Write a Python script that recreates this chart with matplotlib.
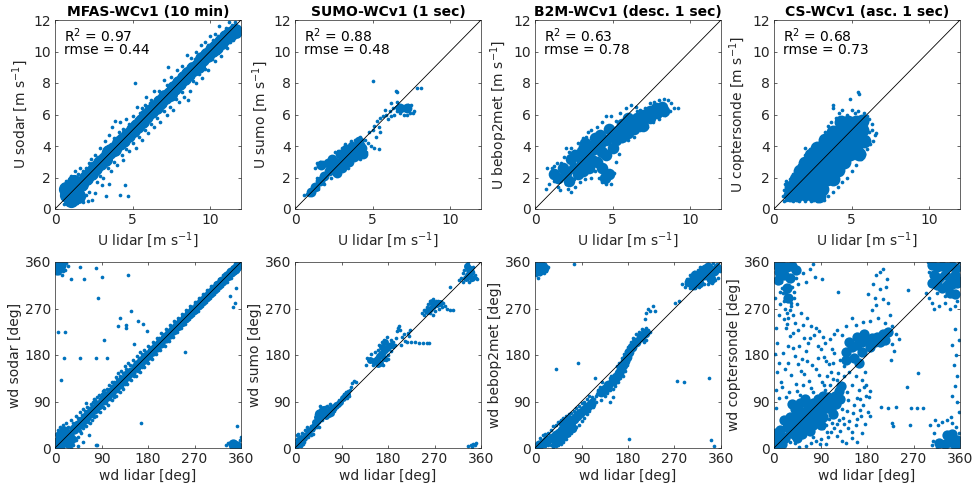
import matplotlib
matplotlib.use('Agg')
import matplotlib.pyplot as plt

plt.rcParams['font.family'] = ['DejaVu Sans']
plt.rcParams['mathtext.fontset'] = 'dejavusans'

# ---------------- data ----------------
titles = ['MFAS-WCv1 (10 min)', 'SUMO-WCv1 (1 sec)', 'B2M-WCv1 (desc. 1 sec)', 'CS-WCv1 (asc. 1 sec)']
instruments = ['sodar', 'sumo', 'bebop2met', 'coptersonde']
r2_values = [0.97, 0.88, 0.63, 0.68]
rmse_values = [0.44, 0.48, 0.78, 0.73]
speed_ticks = [0, 5, 10]
speed_yticks = [0, 2, 4, 6, 8, 10, 12]
dir_ticks = [0, 90, 180, 270, 360]

# wind speed, sodar vs lidar: dense core and scattered points
u_sodar_core = [(0.8,0.9),(1.1,1.1),(1.4,1.4),(1.7,1.6),(2.0,2.0),(2.3,2.3),(2.6,2.6),(2.9,2.9),(3.2,3.2),
    (3.5,3.6),(3.8,3.8),(4.1,4.2),(4.4,4.4),(4.7,4.7),(5.0,5.0),(5.3,5.3),(5.6,5.6),(5.9,5.9),(6.2,6.2),
    (6.5,6.5),(6.8,6.8),(7.1,7.1),(7.4,7.3),(7.7,7.7),(8.0,8.0),(8.3,8.3),(8.6,8.6),(8.9,8.9),(9.2,9.1),
    (9.5,9.5),(9.8,9.8),(10.1,10.1),(10.4,10.3),(10.7,10.6),(11.0,10.9),(11.3,11.1),(11.6,11.3),
    (1.0,0.6),(1.5,0.8),(1.2,1.7),(0.7,1.3)]
u_sodar_pts = [(0.5,1.4),(0.6,1.1),(0.7,1.8),(0.9,1.5),(1.0,2.1),(1.2,1.9),(1.3,2.4),(1.5,2.2),(1.6,2.6),
    (1.8,2.4),(2.0,2.6),(2.2,2.9),(2.3,3.2),(2.5,2.9),(2.6,3.4),(2.8,3.3),(2.9,3.9),(3.1,3.6),(3.2,4.3),
    (3.4,4.0),(3.5,4.7),(3.7,5.2),(3.8,4.5),(3.9,5.6),(4.1,4.9),(4.2,5.5),(4.4,5.1),(4.6,5.7),(4.8,5.4),
    (5.0,5.9),(5.2,5.7),(5.3,6.5),(5.5,6.1),(5.6,6.4),(5.8,6.6),(5.9,7.1),(6.1,6.7),(6.2,6.9),(6.4,7.5),
    (6.5,7.0),(6.7,7.5),(6.9,7.4),(7.0,8.2),(7.2,7.9),(7.3,9.0),(7.5,8.4),(7.6,8.0),(7.9,8.8),(8.1,8.5),
    (8.2,9.1),(8.4,8.9),(8.5,9.8),(8.7,9.2),(8.8,9.6),(9.0,9.5),(9.1,10.0),(9.3,9.8),(9.4,10.4),(9.6,10.1),
    (9.7,10.6),(9.9,10.4),(10.0,11.0),(10.2,10.7),(10.3,11.1),(10.5,11.0),(10.6,11.6),(10.8,11.2),
    (11.0,11.5),(11.2,11.9),(11.4,11.7),(11.6,11.9),(5.15,8.0),
    (0.6,0.3),(0.9,0.45),(1.0,0.35),(1.3,0.6),(1.4,0.4),(1.7,0.7),(1.8,0.45),(2.1,0.5),(2.2,1.1),(2.4,0.6),
    (2.0,0.9),(2.6,1.0),(2.7,1.7),(3.0,1.5),(2.9,2.1),(3.3,0.8),(3.5,1.6),(3.1,2.0),(3.4,2.6),(3.6,2.4),
    (3.8,3.0),(4.0,2.8),(4.2,0.9),(4.5,1.5),(4.7,0.8),(4.3,3.4),(4.4,3.1),(4.6,3.8),(4.8,3.7),(5.0,4.2),
    (5.2,3.9),(5.4,4.6),(5.6,4.4),(5.8,5.0),(6.0,4.8),(6.2,5.4),(6.4,5.2),(6.6,5.8),(6.8,5.5),(7.0,6.2),
    (7.2,6.0),(7.4,6.5),(7.6,6.3),(7.8,7.0),(8.0,6.8),(8.2,7.4),(8.3,7.1),(8.6,6.9),(8.7,7.5),(8.9,8.1),
    (9.1,8.0),(9.3,8.6),(9.5,8.3),(9.7,8.9),(9.9,8.8),(10.1,9.5),(10.3,9.4),(10.5,9.9),(10.7,9.7),
    (10.9,10.3),(11.1,10.2),(11.3,10.6),(11.5,10.7),(11.7,11.1),(11.8,11.0),(11.9,11.3)]

u_sumo_core = [(1.0,1.1),(1.3,1.4),(1.6,1.8),(1.9,2.1),(2.2,2.4),(2.5,2.7),(2.8,2.9),(3.1,3.1),(3.4,3.4),
    (3.7,3.6),(4.0,3.8),(4.3,3.9),(2.4,3.2),(2.9,3.5),(3.3,3.8),(3.7,4.0),(4.1,4.3),(1.7,2.8),(2.1,2.9),
    (3.0,2.6),(3.5,3.0),(4.0,3.4),(4.4,3.5),(2.7,2.3),(3.2,2.9),(3.8,3.3),(2.6,3.0),(6.8,6.4),(7.2,6.4)]
u_sumo_pts = [(0.6,0.9),(0.75,0.95),(0.9,0.9),(1.1,1.0),(1.2,1.5),(1.5,1.3),(1.4,2.0),(1.3,2.6),(1.4,2.9),
    (1.6,3.0),(2.0,2.1),(2.6,3.6),(2.8,3.7),(3.2,4.1),(3.6,4.3),(3.9,4.4),(4.2,4.6),(4.5,4.4),(4.7,4.2),
    (4.9,4.0),(5.1,3.9),(5.4,3.8),(4.6,3.6),(5.2,4.6),(5.0,5.0),(5.1,5.3),(5.3,5.6),(5.5,5.8),(5.7,5.9),
    (5.4,5.2),(5.5,4.9),(5.9,6.0),(6.1,6.2),(6.3,6.4),(6.5,6.5),(6.6,6.2),(6.8,6.1),(7.0,6.0),(7.2,6.0),
    (7.4,6.1),(7.6,6.1),(7.7,6.2),(6.2,5.9),(6.4,6.0),(6.7,6.6),(6.9,6.5),(7.1,6.5),(7.3,6.6),(7.5,6.6),
    (6.0,5.7),(5.8,6.3),(6.2,6.7),(6.6,6.8),(6.5,7.5),(6.6,7.4),(7.9,7.7),(8.1,7.7),(5.0,8.1),(7.2,6.3),
    (6.9,6.3),(4.8,4.9),(4.4,4.1),(3.0,3.9),(2.3,2.0),(1.9,1.6),(2.5,2.2),(3.4,2.6),(4.2,3.2),(1.8,3.0),
    (2.2,3.1),(1.5,2.7)]

u_b2m_core = [(1.5,2.0),(2.0,2.3),(2.5,2.6),(3.0,3.0),(3.4,3.4),(3.8,3.8),(4.2,4.1),(4.6,4.4),(5.0,4.7),
    (5.4,5.0),(5.8,5.2),(6.2,5.5),(6.6,5.8),(7.0,6.0),(7.4,6.2),(7.8,6.4),(8.2,6.5),(2.3,3.2),(3.0,3.7),
    (3.5,4.0),(2.8,2.2),(3.5,2.6),(4.0,3.0),(4.3,2.6),(4.6,3.4),(5.0,3.9),(4.2,4.7),(3.9,4.5),(6.0,4.8),
    (7.0,5.3),(1.2,2.2),(1.8,2.6),(2.6,3.4),(3.2,4.2),(4.8,5.1),(5.2,4.4),(5.6,4.6),(6.4,5.1),(6.8,5.5),
    (7.4,5.8),(7.9,6.1),(8.3,6.2),(4.8,2.2),(4.5,2.0),(3.1,2.4),(2.2,1.8),(5.6,5.4),(6.0,5.8),(3.7,3.1),
    (4.3,3.6)]
u_b2m_pts = [(0.7,1.3),(0.9,1.6),(0.8,2.6),(1.0,2.3),(1.2,2.7),(1.2,1.8),(1.5,1.4),(1.7,2.9),(1.9,3.3),
    (2.0,3.9),(2.3,3.9),(2.5,3.7),(2.8,4.2),(3.1,4.5),(3.3,4.6),(3.6,5.0),(3.4,4.9),(4.0,5.2),(4.3,5.5),
    (4.6,5.9),(4.9,5.9),(5.2,5.6),(5.5,6.1),(5.9,6.4),(6.2,6.6),(6.5,6.5),(6.8,6.3),(7.1,6.4),(7.4,6.7),
    (7.7,6.8),(8.0,6.9),(8.3,7.0),(8.6,6.9),(8.8,6.7),(9.0,6.4),(9.2,6.4),(8.7,6.2),(8.4,6.0),(8.0,5.7),
    (7.6,5.5),(7.2,5.2),(6.8,5.0),(6.4,4.6),(6.0,4.4),(5.6,4.3),(5.4,3.5),(5.2,3.0),(5.1,2.3),(4.9,1.6),
    (4.6,1.6),(4.3,1.7),(4.1,2.0),(4.4,2.2),(3.9,2.4),(3.6,2.0),(3.2,1.9),(2.9,1.7),(2.6,1.4),(2.3,1.1),
    (2.1,1.3),(2.0,1.6),(2.5,1.9),(1.6,1.2),(1.4,2.9),(1.1,2.6),(2.2,3.6),(2.9,4.0),(6.6,6.2),(7.9,6.6)]

u_cs_core = [(1.0,0.9),(1.5,0.9),(2.0,0.95),(2.5,0.9),(2.9,0.8),(1.1,1.4),(1.6,1.45),(2.1,1.4),(2.6,1.3),
    (3.1,1.3),(1.4,1.9),(1.9,1.95),(2.4,1.9),(2.9,1.8),(3.4,1.9),(3.8,1.9),(1.7,2.4),(2.2,2.45),(2.7,2.4),
    (3.2,2.35),(3.7,2.4),(4.1,2.5),(2.0,2.9),(2.5,2.95),(3.0,2.9),(3.5,2.85),(4.0,3.0),(4.5,3.0),(2.4,3.4),
    (2.9,3.45),(3.4,3.4),(3.9,3.4),(4.4,3.5),(4.9,3.5),(2.8,3.9),(3.3,3.9),(3.8,3.95),(4.3,4.0),(4.8,4.0),
    (5.3,4.0),(3.3,4.4),(3.8,4.4),(4.3,4.5),(4.8,4.5),(5.3,4.6),(5.8,4.3),(3.8,4.9),(4.3,5.0),(4.8,5.0),
    (5.3,5.1),(5.7,5.0),(4.3,5.5),(4.8,5.5),(5.3,5.5),(5.7,5.6),(5.5,3.5)]
u_cs_pts = [(0.65,0.5),(0.8,0.55),(1.2,0.5),(1.6,0.5),(2.0,0.5),(2.4,0.5),(2.8,0.5),(3.0,0.55),(0.6,0.8),
    (0.65,1.2),(0.7,1.6),(0.75,1.75),(0.9,1.5),(1.0,1.9),(1.2,2.2),(1.4,2.5),(1.6,2.8),(1.8,3.1),(2.0,3.4),
    (2.0,3.9),(2.3,3.8),(2.6,4.0),(2.9,4.2),(3.1,4.6),(3.3,4.9),(3.5,5.3),(3.7,5.5),(3.8,6.6),(3.8,6.4),
    (4.0,5.8),(4.2,6.1),(4.4,6.3),(4.7,6.0),(4.9,7.0),(5.0,6.3),(5.4,7.4),(5.5,7.3),(5.4,6.2),(5.8,6.1),
    (6.0,5.9),(6.1,5.7),(6.3,5.4),(6.35,5.0),(6.5,4.7),(6.6,4.8),(6.4,4.3),(6.2,4.1),(6.0,3.8),(5.8,3.5),
    (5.6,3.2),(5.3,2.8),(5.0,2.4),(4.7,2.0),(4.4,1.7),(4.1,1.4),(3.8,1.1),(3.5,0.8),(3.2,0.6),(6.0,4.5),
    (5.9,5.3),(5.2,6.1),(6.1,4.9)]

# wind direction
wd_sodar_core = [(4,4),(12,12),(20,20),(28,28),(36,37),(44,44),(52,52),(60,60),(68,68),(76,76),(84,84),
    (92,92),(100,100),(108,108),(116,116),(124,124),(132,132),(140,141),(148,148),(156,156),(164,164),
    (172,172),(180,180),(188,188),(196,196),(204,204),(212,212),(220,220),(228,228),(236,236),(244,244),
    (252,252),(260,260),(268,268),(276,276),(284,284),(292,292),(300,300),(308,308),(316,316),(324,324),
    (332,332),(340,340),(348,347),(355,354),(10,25),(25,10),(8,2),(3,12),(30,18),(18,32),(345,8),(352,4),
    (6,352),(12,354),(4,345)]
wd_sodar_pts = [(2,28),(5,35),(8,22),(10,40),(15,45),(18,30),(22,48),(26,40),(30,55),(35,48),(40,62),
    (44,58),(48,70),(52,64),(55,75),(58,72),(62,80),(66,78),(70,85),(73,90),(75,95),(78,92),(82,98),
    (86,102),(90,105),(93,110),(95,112),(100,114),(105,122),(108,120),(110,128),(114,127),(118,138),
    (120,134),(122,145),(126,140),(128,150),(132,146),(135,158),(138,153),(142,165),(146,160),(150,170),
    (154,166),(158,178),(162,175),(165,185),(169,182),(172,190),(176,186),(180,197),(185,195),(190,205),
    (194,204),(198,213),(202,212),(206,222),(210,220),(215,230),(218,228),(222,238),(226,236),(230,246),
    (234,243),(238,252),(242,250),(246,260),(250,258),(254,268),(258,265),(262,275),(266,272),(270,283),
    (274,280),(278,290),(282,288),(286,298),(290,296),(294,305),(298,302),(302,313),(306,312),(310,320),
    (314,318),(318,328),(322,326),(326,334),(330,338),(334,342),(338,345),(342,350),(346,353),(350,358),
    (60,88),
    (15,2),(25,3),(35,5),(38,20),(40,15),(45,22),(48,33),(50,30),(55,38),(57,45),(60,42),(64,50),(68,48),
    (72,55),(76,60),(80,62),(84,72),(88,70),(92,80),(95,78),(99,88),(102,84),(106,94),(110,92),(114,99),
    (118,100),(122,110),(125,108),(129,118),(132,115),(136,124),(140,124),(144,133),(148,132),(152,140),
    (156,140),(160,150),(164,148),(168,156),(172,156),(176,166),(180,165),(184,174),(188,172),(192,182),
    (196,182),(200,190),(204,190),(208,198),(212,198),(216,207),(220,207),(224,215),(228,215),(232,224),
    (236,224),(240,232),(244,232),(248,240),(252,240),(256,249),(260,249),(264,257),(268,258),(272,264),
    (276,265),(280,273),(284,274),(288,282),(292,282),(296,290),(300,290),(304,298),(308,298),(312,306),
    (316,306),(320,314),(324,314),(328,322),(332,322),(336,331),(340,330),(344,338),(348,338),(352,346),
    (356,346),(55,12),(45,3),(80,6),(65,25),(30,0),
    (48,350),(79,349),(90,331),(57,328),(84,291),(142,334),(5,224),(19,224),(12,132),(17,175),(48,175),
    (79,175),(101,175),(94,209),(121,236),(126,251),(138,232),(147,265),(160,245),(171,240),(138,239),
    (152,201),(178,227),(252,186),(339,294),(345,273),(349,280),(351,309),(352,42),(360,22),(166,48),
    (81,6),(13,335),(31,328),(20,345),(25,352),(2,340),(8,338),(22,358),(15,342),(335,10),(340,2),
    (358,15),(348,12),(330,5)]

wd_sumo_core = [(3,5),(5,15),(10,8),(12,20),(18,20),(22,25),(28,32),(32,38),(36,42),(40,48),(44,55),
    (48,60),(52,64),(56,68),(60,70),(64,72),(68,76),(72,78),(76,80),(80,84),(84,86),(88,90),(92,96),
    (96,100),(100,104),(45,68),(50,72),(55,75),(42,60),(38,50),(60,62),(66,66),(70,68),
    (145,170),(152,168),(158,172),(162,178),(166,182),(170,186),(174,190),(178,194),(182,198),(186,200),
    (168,195),(175,205),(160,163),(165,165),(172,175),
    (255,265),(262,270),(268,275),(274,278),(280,280),(265,282),
    (330,330),(335,335),(340,340),(336,345),(333,352),(342,330)]
wd_sumo_pts = [(1,2),(2,10),(4,25),(6,28),(8,18),(12,3),(15,8),(18,12),(14,30),(20,35),(25,30),(30,42),
    (24,40),(35,35),(38,45),(42,40),(46,50),(52,55),(55,60),(58,80),(62,82),(68,85),(72,82),(75,72),
    (78,75),(82,80),(86,92),(90,98),(94,104),(98,108),(102,110),(106,112),(108,118),(110,125),(114,130),
    (118,128),(104,100),(100,96),(46,40),(35,28),(30,25),(26,22),(50,78),(44,72),(40,65),(48,82),
    (138,160),(140,175),(148,182),(150,160),(155,185),(160,190),(163,200),(168,205),(172,210),(178,215),
    (185,210),(190,205),(194,200),(196,212),(198,226),(200,232),(202,236),(204,228),(207,215),(212,208),
    (216,205),(225,205),(232,205),(240,204),(248,204),(255,204),(260,204),(180,180),(185,188),(190,195),
    (176,170),(170,160),(180,172),(210,220),(206,200),(218,222),(222,228),(220,216),
    (245,262),(250,268),(255,272),(258,278),(262,285),(268,288),(272,285),(276,284),(282,282),(286,280),
    (290,275),(295,270),(300,268),(305,268),(285,272),(278,270),(270,265),(262,262),(268,258),(250,258),
    (300,312),(318,325),(322,330),(325,338),(328,345),(330,350),(332,357),(335,360),(338,350),(342,345),
    (345,340),(348,335),(350,330),(352,328),(340,325),(336,322),(326,322),(345,350),
    (335,3),(340,5),(345,8),(348,6),(350,10),(342,2)]

wd_b2m_core = [(5,350),(12,352),(18,348),(8,342),
    (8,5),(16,10),(24,15),(32,20),(40,25),(46,30),(52,35),(58,40),(64,45),(70,50),(76,56),(82,62),(88,68),
    (94,74),(100,80),(108,85),(128,108),(136,115),(142,122),(150,130),(156,138),(162,145),(166,152),
    (170,160),(174,168),(178,176),(182,185),(188,195),(196,206),(205,215),(212,222),(40,12),(50,20),
    (60,30),(72,38),(55,48),(65,55),
    (298,322),(306,325),(314,328),(322,332),(330,335),(338,338),(346,342),(352,348),(310,335),(325,345),
    (335,350),(340,328),(318,320),(305,315)]
wd_b2m_pts = [(2,2),(5,12),(10,20),(15,25),(20,28),(25,30),(30,35),(35,42),(40,45),(45,50),(50,55),
    (55,58),(60,62),(65,66),(70,68),(75,72),(80,78),(85,82),(90,88),(95,90),(100,95),(105,100),(110,98),
    (115,95),(118,90),(112,80),(105,72),(100,66),(95,58),(90,52),(85,45),(80,40),(75,35),(70,30),(65,25),
    (60,18),(55,12),(50,8),(45,5),(40,3),(35,2),(30,5),(25,6),(20,4),(120,105),(122,112),(125,118),
    (130,128),(128,92),(135,100),(140,106),(145,112),(150,115),(155,120),(160,128),(165,135),(170,140),
    (175,150),(178,160),(180,170),(150,98),(145,90),(155,140),(148,140),(145,135),(158,158),(162,165),
    (168,175),(172,182),(176,188),(180,195),(185,205),(190,212),(196,220),(202,225),(208,230),(214,232),
    (218,228),(222,225),(200,205),(192,198),(186,190),(215,210),(210,205),(215,262),(218,270),(222,265),
    (228,275),(212,250),(232,265),(118,100),(108,92),
    (41,152),(84,164),(116,135),(275,129),(288,127),(336,136),(181,17),(341,16),(346,3),(76,357),
    (271,280),(278,285),
    (285,318),(290,312),(295,328),(300,335),(308,340),(315,345),(320,350),(328,352),(335,356),(345,358),
    (352,356),(356,350),(358,342),(354,330),(348,325),(342,320),(335,318),(328,318),(318,312),(310,310),
    (300,310),(292,318),
    (1,360),(2,335),(5,330),(15,360),(20,356),(22,343),(25,350),(18,338),(10,336),(3,355)]

wd_cs_core = [(5,5),(8,20),(12,35),(4,30),(15,8),(22,20),(25,40),(30,30),(35,50),(40,40),(45,60),(50,50),
    (55,70),(60,60),(65,80),(70,70),(75,88),(80,80),(85,95),(90,88),(95,100),(100,92),(105,98),(110,90),
    (40,25),(50,35),(60,45),(70,55),(80,62),(90,70),(100,78),(30,60),(40,75),(50,88),(60,95),(45,20),
    (55,28),(65,38),(75,45),(85,52),(95,60),(110,75),(118,100),(120,85),(125,110),(130,120),(128,95),
    (115,65),(35,85),(20,55),(70,32),(90,45),
    (140,185),(150,195),(160,200),(170,205),(180,210),(190,212),(200,215),(210,220),(220,225),(145,205),
    (160,215),(175,220),(195,205),(205,205),(155,175),(165,165),(170,185),(185,195),(215,210),(140,170),
    (5,355),(15,352),(25,350),(35,352),(10,340),(20,335),(30,330),(8,325),(42,345),(25,310),(28,290),
    (305,355),(315,350),(325,352),(335,350),(345,352),(353,348),(310,335),(320,330),(330,335),(340,330),
    (350,335),(315,315),(325,310),(335,315),(345,318),(355,320),(340,300),(350,298),(305,320),
    (320,10),(330,8),(340,12),(350,6),(355,15),(335,25),(345,28)]
wd_cs_pts = [(2,182),(6,203),(3,232),(9,258),(2,291),(11,302),(5,148),(13,127),(4,113),(9,96),(3,77),
    (16,118),(21,152),(17,184),(27,198),(23,233),(31,216),(36,193),(41,178),(47,163),(52,149),(54,172),
    (61,187),(66,204),(69,212),(77,218),(82,232),(86,197),(91,192),(97,176),(101,168),(106,162),(111,147),
    (58,143),(67,129),(72,117),(76,108),(81,153),(87,141),(92,127),(96,121),(33,142),(42,124),(44,111),
    (51,103),(29,108),(24,98),(56,121),(27,252),(37,258),(41,241),(47,228),(56,238),(63,252),(71,236),
    (99,203),(108,211),(116,221),(121,229),(117,183),(127,171),(113,192),(94,214),(87,226),(52,262),
    (44,279),(38,302),(46,318),(56,338),(61,322),(69,347),(76,357),(79,331),(92,328),(124,302),(22,270),
    (18,300),(33,281),(14,321),(12,279),(63,168),(73,160),(48,198),(58,213),(103,140),(115,165),(28,165),
    (9,165),(37,222),(86,175),(20,250),(26,262),(33,275),(38,290),(19,285),(24,300),(35,312),(42,330),
    (15,310),(30,268),(26,240),
    (211,347),(218,328),(198,334),(205,308),(211,289),(198,276),(189,267),(224,257),(185,245),(201,252),
    (214,241),(229,236),(236,221),(228,202),(233,188),(226,171),(241,211),(181,298),(191,318),(206,341),
    (216,311),(196,291),(221,281),(260,305),(172,243),(158,238),(151,252),(139,236),(131,219),(136,158),
    (146,147),(158,139),(171,131),(174,118),(164,112),(151,121),(141,108),(179,101),(172,84),(167,73),
    (152,67),(146,52),(136,46),(127,33),(121,24),(131,14),(151,31),(158,44),(169,61),(112,49),(117,38),
    (102,31),(91,18),(82,14),(71,9),(61,4),(49,2),(41,9),(31,11),(21,27),(101,44),(94,39),(106,56),
    (91,104),(99,112),(109,121),(121,131),(136,139),(124,146),(114,134),(186,62),(144,92),(160,96),
    (176,148),(140,10),(100,8),(150,20),(161,11),(170,30),(176,46),(181,70),(183,99),(166,95),(155,84),
    (141,71),(134,59),(126,55),(144,39),(131,76),(161,56),(110,31),(121,46),(105,21),(89,8),(76,22),
    (185,111),(178,121),
    (257,119),(279,145),(208,80),(221,77),(237,80),(266,77),(276,77),(228,48),(231,42),(263,45),(289,77),
    (302,45),(308,13),(345,100),(350,120),(355,140),(348,160),(352,180),(345,200),(358,210),(350,230),
    (355,90),(342,60),(358,70),(300,290),(295,300),(310,270),(320,275),(330,280),(340,270),(350,275),
    (355,285),(305,280),(330,295),(315,300),(300,340),(298,360),(358,360),(360,330),(312,55),(318,45),
    (325,50),(335,55),(345,48),(352,40),(358,30),(310,30),(360,5),(305,5),(315,2)]

speed_core = [u_sodar_core, u_sumo_core, u_b2m_core, u_cs_core]
speed_pts = [u_sodar_pts, u_sumo_pts, u_b2m_pts, u_cs_pts]
dir_core = [wd_sodar_core, wd_sumo_core, wd_b2m_core, wd_cs_core]
dir_pts = [wd_sodar_pts, wd_sumo_pts, wd_b2m_pts, wd_cs_pts]

# ---------------- style ----------------
BLUE = '#0072BD'
AXC = '#262626'
FS = 10
speed_core_size = [120, 50, 70, 100]
dir_core_size = [55, 25, 50, 55]
DOT = 7

fig = plt.figure(figsize=(9.77, 4.92), dpi=100)
W, H = 977, 492
lefts = [55, 295, 535, 774]


def style(ax, lim, ticks, yticks):
    ax.set_xlim(0, lim)
    ax.set_ylim(0, lim)
    ax.set_xticks(ticks)
    ax.set_yticks(yticks)
    ax.tick_params(direction='in', length=2, width=0.5, top=True, right=True,
                   labelsize=FS, colors=AXC, pad=3)
    for s in ax.spines.values():
        s.set_color(AXC)
        s.set_linewidth(0.5)


def draw(ax, core, pts, csize, lim):
    cx, cy = zip(*core)
    px, py = zip(*pts)
    ax.scatter(cx, cy, s=csize, c=BLUE, linewidths=0, zorder=2)
    ax.scatter(px, py, s=DOT, c=BLUE, linewidths=0, zorder=2)
    ax.plot([0, lim], [0, lim], color='k', lw=0.6, zorder=3)


for i in range(4):
    ax = fig.add_axes([lefts[i] / W, 1 - 209 / H, 186 / W, 189 / H])
    draw(ax, speed_core[i], speed_pts[i], speed_core_size[i], 12)
    style(ax, 12, speed_ticks, speed_yticks)
    ax.set_title(titles[i], fontsize=FS, fontweight='bold', pad=3)
    ax.set_xlabel('U lidar [m s$^{-1}$]', fontsize=FS, color=AXC, labelpad=2)
    ax.set_ylabel('U %s [m s$^{-1}$]' % instruments[i], fontsize=FS, color=AXC, labelpad=2)
    ax.text(0.05, 0.885, 'R$^2$ = %.2f' % r2_values[i], transform=ax.transAxes,
            fontsize=FS, va='baseline', color='k')
    ax.text(0.05, 0.82, 'rmse = %.2f' % rmse_values[i], transform=ax.transAxes,
            fontsize=FS, va='baseline', color='k')

    ax2 = fig.add_axes([lefts[i] / W, 1 - 448 / H, 186 / W, 186 / H])
    draw(ax2, dir_core[i], dir_pts[i], dir_core_size[i], 360)
    style(ax2, 360, dir_ticks, dir_ticks)
    ax2.set_xlabel('wd lidar [deg]', fontsize=FS, color=AXC, labelpad=2)
    ax2.set_ylabel('wd %s [deg]' % instruments[i], fontsize=FS, color=AXC, labelpad=2)

fig.savefig('out.png', dpi=100)
